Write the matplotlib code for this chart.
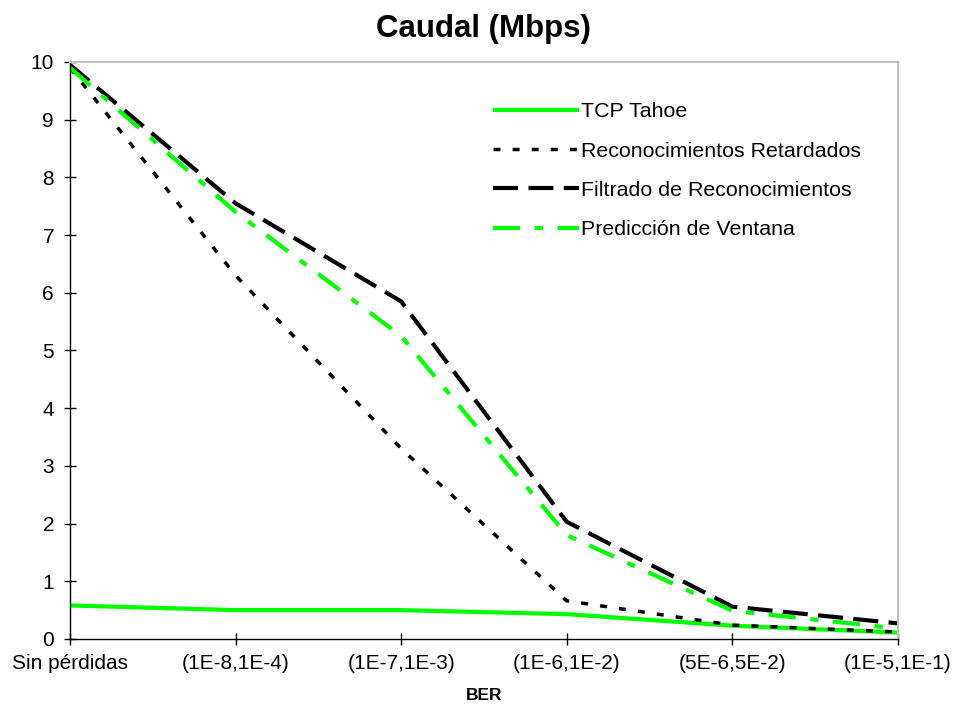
import numpy as np
import matplotlib
matplotlib.use("Agg")
import matplotlib.pyplot as plt

plt.rcParams['font.family'] = ['Liberation Sans', 'DejaVu Sans']

categories = ["Sin pérdidas", "(1E-8,1E-4)", "(1E-7,1E-3)", "(1E-6,1E-2)", "(5E-6,5E-2)", "(1E-5,1E-1)"]
tahoe = [0.58, 0.50, 0.50, 0.43, 0.23, 0.11]
retardados = [9.9, 6.3, 3.3, 0.66, 0.24, 0.12]
filtrado = [9.95, 7.55, 5.85, 2.03, 0.56, 0.27]
prediccion = [9.9, 7.4, 5.25, 1.8, 0.49, 0.18]

x = np.arange(len(categories))

fig = plt.figure(figsize=(9.56, 7.04), dpi=100)
ax = fig.add_axes([0.0732, 0.0924, 0.866, 0.8196])

green = "#00ff00"
ax.plot(x, tahoe, color=green, lw=3, label="TCP Tahoe", solid_capstyle="butt")
ax.plot(x, retardados, color="black", lw=2.5, linestyle=(0, (2, 3.5)), label="Reconocimientos Retardados")
ax.plot(x, filtrado, color="black", lw=3, linestyle=(0, (6, 2.5)), label="Filtrado de Reconocimientos")
ax.plot(x, prediccion, color=green, lw=3, linestyle=(0, (6.5, 3.5, 2, 3.5)), label="Predicción de Ventana")

ax.set_xlim(0, 5)
ax.set_ylim(0, 10)
ax.set_yticks(range(0, 11))
ax.set_xticks(x)
ax.set_xticklabels(categories)
ax.tick_params(axis='both', direction='inout', length=9, width=1, labelsize=15, colors='black')
ax.tick_params(axis='x', pad=6)
ax.tick_params(axis='y', pad=7)

for side in ['top', 'right']:
    ax.spines[side].set_color('#c0c0c0')
    ax.spines[side].set_linewidth(1.5)
for side in ['left', 'bottom']:
    ax.spines[side].set_color('black')
    ax.spines[side].set_linewidth(1)

ax.set_title("Caudal (Mbps)", fontsize=22.5, fontweight='bold', pad=18)
ax.set_xlabel("BER", fontsize=12.5, fontweight='bold', labelpad=11)

fig.legend(loc='upper left', bbox_to_anchor=(0.496, 0.882), frameon=False,
           fontsize=15.4, handlelength=4.0, handletextpad=0.1, labelspacing=0.95)

fig.savefig("out.png", dpi=100)
